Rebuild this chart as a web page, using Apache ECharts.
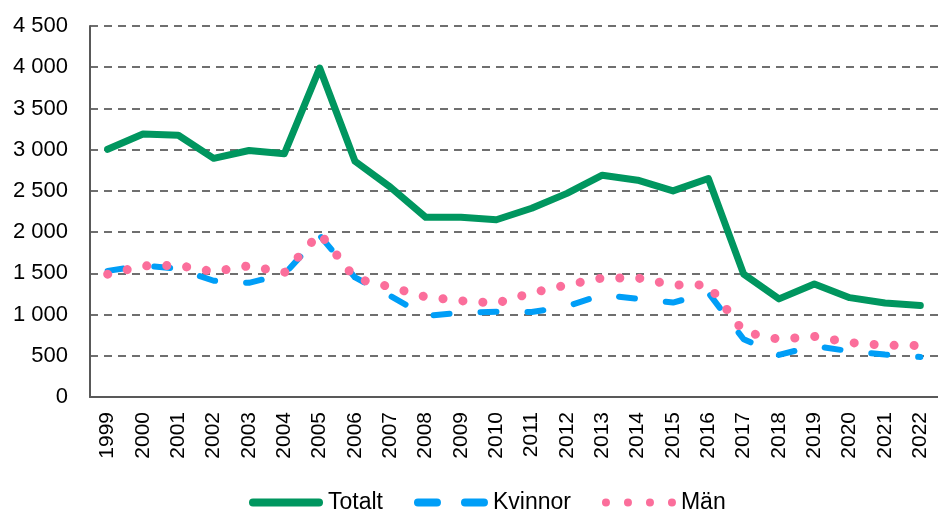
<!DOCTYPE html>
<html>
<head>
<meta charset="utf-8">
<script src="https://cdn.jsdelivr.net/npm/echarts@6/dist/echarts.min.js"></script>
<style>
  html, body { margin: 0; padding: 0; background: #fff; }
  #chart { width: 938px; height: 514px; }
</style>
</head>
<body>
<div id="chart"></div>
<script>
// år
var years = ["1999", "2000", "2001", "2002", "2003", "2004", "2005", "2006", "2007", "2008", "2009", "2010",
  "2011", "2012", "2013", "2014", "2015", "2016", "2017", "2018", "2019", "2020", "2021", "2022"];
var totalt = [3005, 3190, 3175, 2895, 2990, 2950, 3990, 2860, 2545, 2180, 2180, 2150,
  2290, 2470, 2690, 2630, 2500, 2650, 1490, 1190, 1370, 1205, 1140, 1110];
var kvinnor = [1530, 1595, 1555, 1410, 1385, 1490, 1960, 1450, 1225, 985, 1020, 1035,
  1030, 1100, 1240, 1190, 1145, 1265, 700, 510, 620, 555, 515, 485];
var man = [1489, 1590, 1596, 1520, 1592, 1508, 1986, 1440, 1335, 1214, 1167, 1138,
  1262, 1360, 1444, 1444, 1359, 1360, 790, 700, 735, 660, 627, 625];
var yTicks = [0, 500, 1000, 1500, 2000, 2500, 3000, 3500, 4000, 4500];

var font = "'Liberation Sans', Arial, sans-serif";

// legendikoner (74 x 8)
var iconSolid = "path://M4,0 L70,0 A4,4 0 0 1 70,8 L4,8 A4,4 0 0 1 4,0 Z";
var iconDash = "path://M4,0 L23,0 A4,4 0 0 1 23,8 L4,8 A4,4 0 0 1 4,0 Z " +
  "M51,0 L70,0 A4,4 0 0 1 70,8 L51,8 A4,4 0 0 1 51,0 Z";
var iconDots = "path://M0,4 A4,4 0 1 0 8,4 A4,4 0 1 0 0,4 Z " +
  "M22,4 A4,4 0 1 0 30,4 A4,4 0 1 0 22,4 Z " +
  "M44,4 A4,4 0 1 0 52,4 A4,4 0 1 0 44,4 Z " +
  "M66,4 A4,4 0 1 0 74,4 A4,4 0 1 0 66,4 Z";

function fmt(v) {
  //tusentalsavgränsare med mellanslag
  return String(v).replace(/\B(?=(\d{3})+(?!\d))/g, " ");
}

var myChart = echarts.init(document.getElementById("chart"));
var option = {
  animation: false,
  textStyle: { fontFamily: font },
  grid: {
    left: 90,
    top: 26,
    width: 856,
    height: 371,
    containLabel: false
  },
  legend: {
    left: 249,
    top: 491,
    padding: 0,
    itemWidth: 74,
    itemHeight: 8,
    itemGap: 31,
    symbolKeepAspect: false,
    textStyle: { fontSize: 23, color: "#000", fontFamily: font },
    data: [
      { name: "Totalt", icon: iconSolid },
      { name: "Kvinnor", icon: iconDash },
      { name: "Män", icon: iconDots }
    ]
  },
  xAxis: {
    type: "category",
    boundaryGap: true,
    data: years,
    axisLine: { lineStyle: { color: "#595959", width: 2 } },
    axisTick: { show: false },
    axisLabel: {
      rotate: 90,
      interval: 0,
      margin: 15,
      fontSize: 21,
      color: "#000"
    }
  },
  yAxis: {
    type: "value",
    min: yTicks[0],
    max: yTicks[yTicks.length - 1],
    interval: 500,
    axisLine: { show: true, lineStyle: { color: "#595959", width: 2 } },
    axisTick: { show: false },
    axisLabel: {
      margin: 22,
      fontSize: 22,
      color: "#000",
      formatter: fmt
    },
    splitLine: {
      lineStyle: { color: "#404040", width: 1.5, type: [8, 6] }
    }
  },
  series: [
    {
      name: "Totalt",
      type: "line",
      data: totalt,
      symbol: "none",
      color: "#00965F",
      lineStyle: { color: "#00965F", width: 7, cap: "round", join: "round" }
    },
    {
      name: "Kvinnor",
      type: "line",
      data: kvinnor,
      symbol: "none",
      color: "#009EF7",
      lineStyle: { color: "#009EF7", width: 6, type: [16, 31], cap: "round", join: "round" }
    },
    {
      name: "Män",
      type: "line",
      data: man,
      symbol: "none",
      color: "#FB6E9B",
      lineStyle: { color: "#FB6E9B", width: 9, type: [0.1, 19.9], cap: "round", join: "round" }
    }
  ]
};
myChart.setOption(option, true);
</script>
</body>
</html>
